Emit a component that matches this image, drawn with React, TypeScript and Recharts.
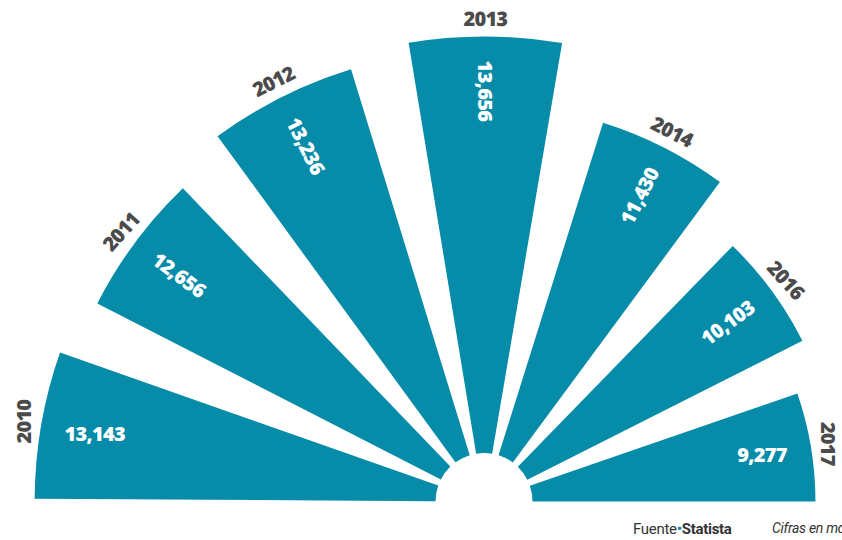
import React from 'react';
import { RadialBarChart, RadialBar, PolarAngleAxis, PolarRadiusAxis, Sector } from 'recharts';

const years = ['2010', '2011', '2012', '2013', '2014', '2016', '2017'];
const values = [13143, 12656, 13236, 13656, 11430, 10103, 9277];
const valueLabels = ['13,143', '12,656', '13,236', '13,656', '11,430', '10,103', '9,277'];

const data = years.map((y, i) => ({ year: y, value: values[i], label: valueLabels[i] }));

const TEAL = '#068ba8';
const GREY = '#4b4b4b';
const RAD = Math.PI / 180;

const polar = (cx: number, cy: number, r: number, a: number) => ({
  x: cx + r * Math.cos(-a * RAD),
  y: cy + r * Math.sin(-a * RAD),
});

const SectorWithLabels = (props: any) => {
  const { cx, cy, innerRadius, outerRadius, startAngle, endAngle, payload } = props;
  const mid = (startAngle + endAngle) / 2;
  // year label, tangential outside the sector
  const yp = polar(cx, cy, outerRadius + 18, mid);
  let yRot = 90 - mid;
  if (Math.abs(yRot) > 75) yRot = Math.sign(yRot) * 90;
  else if (Math.abs(yRot) > 45) yRot = Math.sign(yRot) * 48;
  // value label, radial inside the sector, outer end near the rim
  const halfW = String(payload.label).length * 4.9;
  const vp = polar(cx, cy, outerRadius - 25 - halfW, mid);
  let vRot = mid > 90.5 ? 180 - mid : mid < 89.5 ? -mid : 90;
  if (Math.abs(vRot) < 15) vRot = 0;
  return (
    <g>
      <Sector
        cx={cx}
        cy={cy}
        innerRadius={innerRadius}
        outerRadius={outerRadius}
        startAngle={startAngle}
        endAngle={endAngle}
        fill={TEAL}
        stroke="none"
      />
      <text
        x={yp.x}
        y={yp.y}
        transform={`rotate(${yRot} ${yp.x} ${yp.y})`}
        textAnchor="middle"
        dominantBaseline="central"
        fill={GREY}
        fontFamily="'Open Sans', sans-serif"
        fontWeight={800}
        fontSize={20}
        letterSpacing={-0.8}
      >
        {payload.year}
      </text>
      <text
        x={vp.x}
        y={vp.y}
        transform={`rotate(${vRot} ${vp.x} ${vp.y})`}
        textAnchor="middle"
        dominantBaseline="central"
        fill="#ffffff"
        fontFamily="'Open Sans', sans-serif"
        fontWeight={800}
        fontSize={20}
        letterSpacing={-0.7}
      >
        {payload.label}
      </text>
    </g>
  );
};

export default function App() {
  return (
    <div style={{ position: 'absolute', left: 0, top: 0, width: 842, height: 540, background: '#fff', overflow: 'hidden' }}>
      <RadialBarChart
        width={842}
        height={540}
        data={data}
        layout="centric"
        cx={484}
        cy={501.5}
        innerRadius={48.5}
        outerRadius={465}
        startAngle={156.94}
        endAngle={-30.48}
        barCategoryGap="13.86%"
        margin={{ top: 0, right: 0, bottom: 0, left: 0 }}
      >
        <PolarAngleAxis type="category" dataKey="year" tick={false} axisLine={false} />
        <PolarRadiusAxis type="number" domain={[0, 'dataMax']} tick={false} axisLine={false} />
        <RadialBar dataKey="value" isAnimationActive={false} shape={SectorWithLabels} fill={TEAL} />
      </RadialBarChart>
      <div
        style={{
          position: 'absolute',
          left: 633,
          top: 520,
          fontFamily: 'Roboto, sans-serif',
          fontSize: 15,
          color: '#333',
          whiteSpace: 'nowrap',
          letterSpacing: -0.3,
        }}
      >
        Fuente<span style={{ color: TEAL, fontWeight: 700 }}>•</span>
        <span style={{ fontWeight: 700 }}>Statista</span>
      </div>
      <div
        style={{
          position: 'absolute',
          left: 772,
          top: 520,
          fontFamily: 'Roboto, sans-serif',
          fontStyle: 'italic',
          fontSize: 14,
          color: '#333',
          whiteSpace: 'nowrap',
          letterSpacing: -0.3,
        }}
      >
        Cifras en mdd
      </div>
    </div>
  );
}
